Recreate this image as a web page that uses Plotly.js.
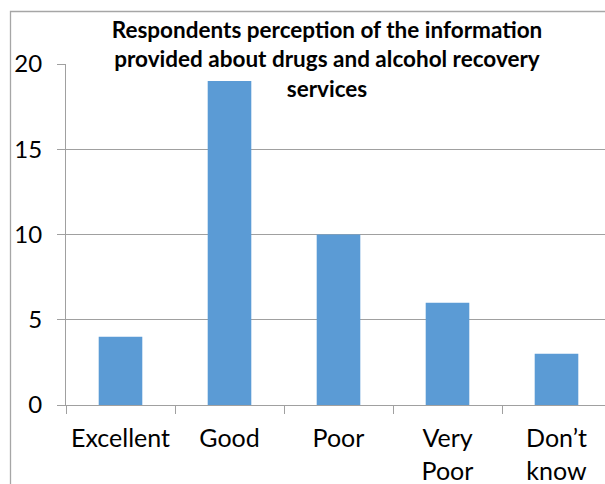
<!DOCTYPE html>
<html><head><meta charset="utf-8">
<script src="https://cdn.plot.ly/plotly-3.0.1.min.js"></script>
<style>html,body{margin:0;padding:0;overflow:hidden;background:#fff}#chart{width:605px;height:484px}</style>
</head><body><div id="chart"></div>
<script>
const categories = ["Excellent", "Good", "Poor", "Very<br>Poor", "Don’t<br>know"];
const counts = [4, 19, 10, 6, 3];
const yTicks = [0, 5, 10, 15, 20];
const titleText = "Respondents perception of the information<br>provided about drugs and alcohol recovery<br>services";

const L = 66, T = 64, B = 79, W = 605, H = 484;
const catPx = 109;
const plotW = W - L;
const xMax = -0.5 + plotW / catPx;

const gridCol = "#a0a0a0";
const fontFam = "Lato, 'Open Sans', sans-serif";

const data = [{
  type: "bar",
  x: categories,
  y: counts,
  marker: {color: "#5B9BD5", line: {width: 0}},
  hoverinfo: "none"
}];

const layout = {
  width: W, height: H,
  margin: {l: L, r: 0, t: T, b: B, pad: 0},
  paper_bgcolor: "#fff", plot_bgcolor: "#fff",
  showlegend: false,
  bargap: 0.6,
  font: {family: fontFam, color: "#000"},
  title: {
    text: titleText,
    font: {family: fontFam, size: 22.5, color: "#000", weight: "bold"},
    xref: "container", yref: "container",
    x: 327 / W, xanchor: "center",
    y: 1 - 38 / H, yanchor: "top"
  },
  xaxis: {
    type: "category",
    range: [-0.5, xMax],
    showgrid: false,
    showline: true, linecolor: gridCol, linewidth: 1,
    ticks: "outside", ticklen: 8, tickcolor: gridCol, tickwidth: 1,
    tickson: "boundaries",
    tickfont: {family: fontFam, size: 25, color: "#000"},
    ticklabelstandoff: 11,
    fixedrange: true
  },
  yaxis: {
    range: [0, 20],
    tickvals: yTicks,
    ticktext: yTicks.map(String),
    showgrid: true, gridcolor: gridCol, gridwidth: 1,
    showline: true, linecolor: gridCol, linewidth: 1,
    ticks: "outside", ticklen: 8, tickcolor: gridCol, tickwidth: 1,
    tickfont: {family: fontFam, size: 24, color: "#000"},
    ticklabelstandoff: 10,
    zeroline: false,
    fixedrange: true
  },
  shapes: [{
    type: "rect", xref: "paper", yref: "paper", layer: "above",
    x0: (10.5 - L) / plotW, x1: 1.2,
    y0: -1, y1: 1 + (T - 11.5) / (H - T - B),
    line: {color: "#a6a6a6", width: 1.3}, fillcolor: "rgba(0,0,0,0)"
  }]
};

Plotly.newPlot("chart", data, layout, {displayModeBar: false, staticPlot: true});
</script></body></html>
